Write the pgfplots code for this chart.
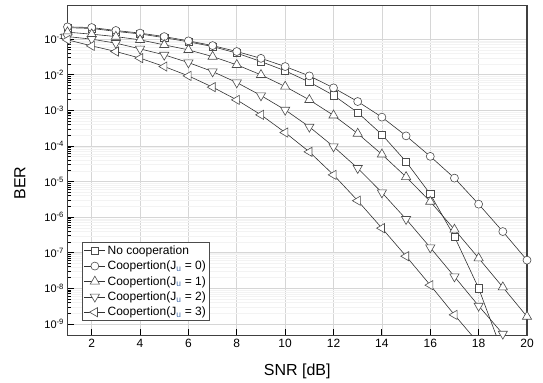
\documentclass[border=0pt]{standalone}
\usepackage{pgfplots}
\pgfplotsset{compat=1.18}
\usepackage{fontspec}
\setmainfont{Liberation Sans}
\definecolor{ublue}{RGB}{70,110,170}
\definecolor{majgrid}{RGB}{214,214,214}
\definecolor{mingrid}{RGB}{243,243,243}
\definecolor{lc}{RGB}{50,50,50}
\begin{document}
\begin{tikzpicture}
\path (-67.5bp,-47.7bp) rectangle (475.5bp,335.3bp);
\begin{axis}[
  at={(0,0)}, anchor=south west,
  scale only axis, width=459.5bp, height=329.6bp,
  xmin=1, xmax=20, ymode=log, ymin=4.8e-10, ymax=0.87,
  xtick={2,4,...,20},
  minor x tick num=0,
  ytick={1e-9,1e-8,1e-7,1e-6,1e-5,1e-4,1e-3,1e-2,1e-1},
  yticklabels={10\textsuperscript{-9},10\textsuperscript{-8},10\textsuperscript{-7},10\textsuperscript{-6},10\textsuperscript{-5},10\textsuperscript{-4},10\textsuperscript{-3},10\textsuperscript{-2},10\textsuperscript{-1}},
  /pgf/number format/assume math mode=true,
  tick pos=left, tick align=inside,
  major tick length=6bp, minor tick length=3.5bp,
  every tick/.style={black, line width=0.9bp},
  grid=both,
  major grid style={majgrid, line width=0.7bp},
  minor grid style={mingrid, line width=0.5bp},
  axis line style={black!75, line width=1.4bp},
  xticklabel style={font=\fontsize{12bp}{14bp}\selectfont},
  yticklabel style={font=\fontsize{11bp}{13bp}\selectfont},
  xlabel={SNR [dB]}, ylabel={BER},
  xlabel style={font=\fontsize{16bp}{18bp}\selectfont, at={(axis description cs:0.5,-0.110)}, anchor=center},
  ylabel style={font=\fontsize{16bp}{18bp}\selectfont, at={(axis description cs:-0.1034,0.462)}, anchor=center},
  legend style={at={(0.032,0.043)}, anchor=south west, draw=black!70, line width=0.7bp,
    font=\fontsize{12bp}{14bp}\selectfont, row sep=1.2bp, inner sep=1.5bp},
  legend cell align=left,
  legend image code/.code={\draw[mark repeat=2,mark phase=2,#1] plot coordinates {(0bp,0bp) (10.5bp,0bp) (21bp,0bp)};},
  every axis plot/.append style={lc, line width=0.6bp},
]
\addplot[mark=square*, mark size=3.6bp, mark options={fill=white, draw=black!70, solid, line width=0.6bp}] coordinates {
(1,0.21) (2,0.20) (3,0.165) (4,0.14) (5,0.11) (6,0.084) (7,0.062) (8,0.0405) (9,0.0235) (10,0.0129)
(11,0.00624) (12,0.00264) (13,8.67e-4) (14,2.09e-4) (15,3.62e-5) (16,4.43e-6) (17,2.85e-7) (18,1.01e-8) (19,1.5e-10)};
\addlegendentry{No cooperation}
\addplot[mark=*, mark size=4bp, mark options={fill=white, draw=black!70, solid, line width=0.6bp}] coordinates {
(1,0.221) (2,0.212) (3,0.175) (4,0.148) (5,0.118) (6,0.0896) (7,0.066) (8,0.0449) (9,0.0289) (10,0.0170)
(11,0.0093) (12,0.00428) (13,0.00177) (14,6.44e-4) (15,1.92e-4) (16,5.1e-5) (17,1.25e-5) (18,2.32e-6) (19,3.94e-7) (20,6.2e-8)};
\addlegendentry{Coopertion(J\textsubscript{\color{ublue}u} = 0)}
\addplot[mark=triangle*, mark size=5.3bp, mark options={fill=white, draw=black!70, solid, line width=0.6bp}] coordinates {
(1,0.157) (2,0.138) (3,0.118) (4,0.0955) (5,0.0691) (6,0.050) (7,0.0324) (8,0.0190) (9,0.00993) (10,0.00467)
(11,0.00197) (12,7.24e-4) (13,2.23e-4) (14,5.8e-5) (15,1.35e-5) (16,2.74e-6) (17,4.49e-7) (18,7.05e-8) (19,1.08e-8) (20,1.61e-9)};
\addlegendentry{Coopertion(J\textsubscript{\color{ublue}u} = 1)}
\addplot[mark=triangle*, mark size=5.3bp, mark options={fill=white, draw=black!70, solid, line width=0.6bp, rotate=180}] coordinates {
(1,0.118) (2,0.100) (3,0.0772) (4,0.0534) (5,0.0362) (6,0.0220) (7,0.0123) (8,0.00604) (9,0.00261) (10,0.00103)
(11,3.44e-4) (12,9.6e-5) (13,2.38e-5) (14,4.91e-6) (15,8.8e-7) (16,1.40e-7) (17,2.14e-8) (18,3.22e-9) (19,5.27e-10)};
\addlegendentry{Coopertion(J\textsubscript{\color{ublue}u} = 2)}
\addplot[mark=triangle*, mark size=5.3bp, mark options={fill=white, draw=black!70, solid, line width=0.6bp, rotate=90}] coordinates {
(1,0.0955) (2,0.0648) (3,0.0449) (4,0.0293) (5,0.0170) (6,0.0093) (7,0.00449) (8,0.00197) (9,7.48e-4) (10,2.38e-4)
(11,6.83e-5) (12,1.54e-5) (13,2.9e-6) (14,4.91e-7) (15,8.0e-8) (16,1.23e-8) (17,1.8e-9) (18,2.85e-10)};
\addlegendentry{Coopertion(J\textsubscript{\color{ublue}u} = 3)}
\end{axis}
\end{tikzpicture}
\end{document}
